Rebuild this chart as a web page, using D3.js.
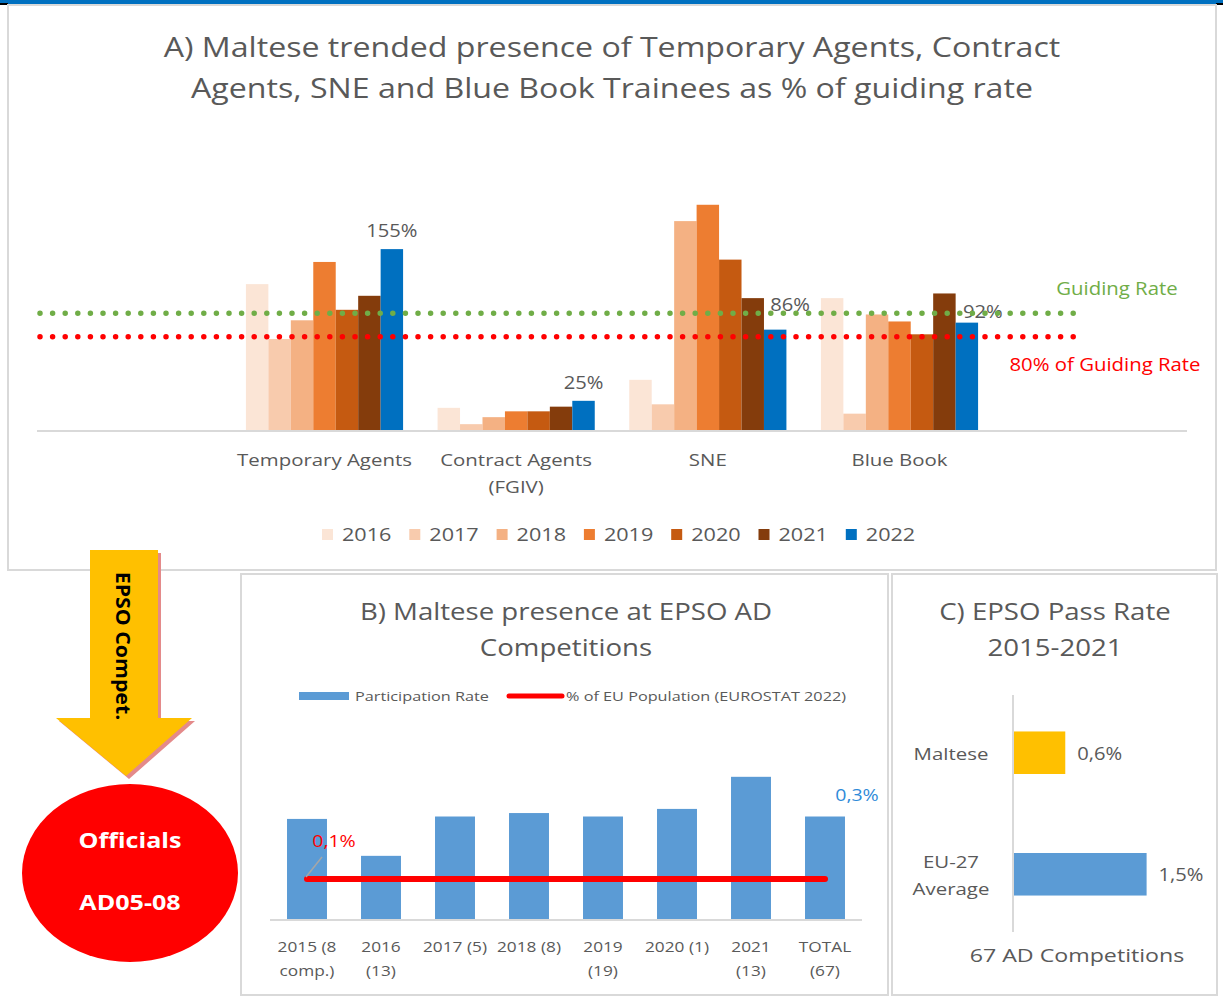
<!DOCTYPE html>
<html>
<head>
<meta charset="utf-8">
<script src="https://cdn.jsdelivr.net/npm/d3@7"></script>
<style>
  body { margin: 0; background: #fff; }
  svg { display: block; font-family: "Open Sans", Lato, sans-serif; }
</style>
</head>
<body>
<svg id="chart" width="1223" height="997"></svg>
<script>
'use strict'

// ---- panel A data ----
const categoriesA = ['', 'Temporary Agents', 'Contract Agents|(FGIV)', 'SNE', 'Blue Book', '']
const yearsA = ['2016', '2017', '2018', '2019', '2020', '2021', '2022']
const yearColors = ['#FBE5D6', '#F8CBAD', '#F4B183', '#ED7D31', '#C55A11', '#843C0C', '#0070C0']
const presenceTA = [125, 78, 94, 144, 103, 115, 155]
const presenceCA = [19, 5, 11, 16, 16, 20, 25]
const presenceSNE = [43, 22, 179, 193, 146, 113, 86]
const presenceBB = [113, 14, 99, 93, 82, 117, 92]
const guidingRate = 100
const guidingRate80 = 80

// ---- panel B data ----
const competitionsB = ['2015 (8|comp.)', '2016|(13)', '2017 (5)', '2018 (8)', '2019|(19)', '2020 (1)', '2021|(13)', 'TOTAL|(67)']
const participationB = [0.29, 0.183, 0.297, 0.307, 0.297, 0.319, 0.412, 0.297]
const euPopulationShare = 0.116

// ---- panel C data ----
const groupsC = ['Maltese', 'EU-27|Average']
const passRateC = [0.58, 1.5]
const passColorsC = ['#FFC000', '#5B9BD5']

const svg = d3.select('#chart')
const grey = '#595959'

// the source picture is a little stretched sideways, so text gets widened too
const STRETCH = 1.17
function widen(sel, factor) {
    sel.each(function () {
        const w = this.getComputedTextLength()
        d3.select(this).attr('textLength', w * (factor || STRETCH)).attr('lengthAdjust', 'spacingAndGlyphs')
    })
    return sel
}

// top band
svg.append('rect').attr('x', 0).attr('y', 0).attr('width', 1223).attr('height', 4).attr('fill', '#0070C0')
svg.append('rect').attr('x', 0).attr('y', 3).attr('width', 8).attr('height', 2).attr('fill', '#000')
svg.append('rect').attr('x', 1216).attr('y', 3).attr('width', 7).attr('height', 2).attr('fill', '#000')

// panel frames
const frame = (x, y, w, h) => svg.append('rect')
    .attr('x', x).attr('y', y).attr('width', w).attr('height', h)
    .attr('fill', '#fff').attr('stroke', '#D9D9D9').attr('stroke-width', 2)
frame(8, 5, 1208, 565)
frame(241, 574, 647, 421)
frame(892, 574, 325, 421)

const title = (x, ys, lines, size, f) => {
    lines.forEach((t, i) => widen(svg.append('text')
        .attr('x', x).attr('y', ys[i])
        .attr('text-anchor', 'middle')
        .attr('font-size', size)
        .attr('fill', grey)
        .text(t), f))
}

// ===== panel A =====
title(612, [57, 98], ['A) Maltese trended presence of Temporary Agents, Contract',
    'Agents, SNE and Blue Book Trainees as % of guiding rate'], 28, 1.147)

const seriesA = [presenceTA, presenceCA, presenceSNE, presenceBB]
const baseA = 430
const xA = d3.scaleBand().domain(categoriesA.map((d, i) => i)).range([37, 1187]).paddingInner(0).paddingOuter(0)
const innerA = d3.scaleBand().domain(yearsA).range([0, xA.bandwidth() * 0.82])
const yA = d3.scaleLinear().domain([0, 200]).range([baseA, baseA - 233.4])

const gA = svg.append('g')
seriesA.forEach((vals, ci) => {
    const x0 = xA(ci + 1) + xA.bandwidth() * 0.09
    gA.selectAll(null).data(vals).enter().append('rect')
        .attr('x', (d, i) => x0 + innerA(yearsA[i]))
        .attr('y', d => yA(d))
        .attr('width', innerA.bandwidth())
        .attr('height', d => baseA - yA(d))
        .attr('fill', (d, i) => yearColors[i])
})

// axis line
svg.append('line').attr('x1', 37).attr('x2', 1187).attr('y1', baseA + 1).attr('y2', baseA + 1)
    .attr('stroke', '#D9D9D9').attr('stroke-width', 2)

// data labels on 2022 bars (the last two were moved by hand in the original)
const labelShift = [[0, -12], [0, -12], [15, -2], [16, 5]]
seriesA.forEach((vals, ci) => {
    const x0 = xA(ci + 1) + xA.bandwidth() * 0.09
    const v = vals[6]
    widen(svg.append('text')
        .attr('x', x0 + innerA('2022') + innerA.bandwidth() / 2 + labelShift[ci][0])
        .attr('y', yA(ci >= 2 ? guidingRate : v) + labelShift[ci][1])
        .attr('text-anchor', 'middle')
        .attr('font-size', 18)
        .attr('fill', grey)
        .text(v + '%'), 1.12)
})

// guiding rate lines
const dotted = (v, color) => svg.append('line')
    .attr('x1', 40).attr('x2', 1084)
    .attr('y1', yA(v)).attr('y2', yA(v))
    .attr('stroke', color).attr('stroke-width', 5.5)
    .attr('stroke-linecap', 'round')
    .attr('stroke-dasharray', '0 12.6')
dotted(guidingRate, '#70AD47')
dotted(guidingRate80, '#FF0000')
widen(svg.append('text').attr('x', 1117).attr('y', 295).attr('text-anchor', 'middle')
    .attr('font-size', 18).attr('fill', '#70AD47').text('Guiding Rate'), 1.13)
widen(svg.append('text').attr('x', 1105).attr('y', 371).attr('text-anchor', 'middle')
    .attr('font-size', 18).attr('fill', '#FF0000').text('80% of Guiding Rate'), 1.13)

// category labels
categoriesA.forEach((c, i) => {
    if (!c) return
    c.split('|').forEach((t, j) => widen(svg.append('text')
        .attr('x', xA(i) + xA.bandwidth() / 2)
        .attr('y', 466 + j * 27)
        .attr('text-anchor', 'middle')
        .attr('font-size', 17)
        .attr('fill', grey)
        .text(t), 1.2))
})

// legend A
const legA = svg.append('g')
yearsA.forEach((y, i) => {
    const lx = 322 + i * 87.3
    legA.append('rect').attr('x', lx).attr('y', 529).attr('width', 11).attr('height', 11).attr('fill', yearColors[i])
    widen(legA.append('text').attr('x', lx + 20).attr('y', 541).attr('font-size', 18).attr('fill', grey).text(y), 1.2)
})

// ===== left: arrow and ellipse =====
const arrowPts = [[90, 550], [158, 550], [158, 718], [192, 718], [126, 776], [56, 718], [90, 718]]
svg.append('polygon').attr('points', arrowPts.map(p => [p[0] + 3, p[1] + 3].join(',')).join(' '))
    .attr('fill', '#E48A8A')
svg.append('polygon').attr('points', arrowPts.map(p => p.join(',')).join(' '))
    .attr('fill', '#FFC000')
widen(svg.append('text').attr('transform', 'translate(116,646) rotate(90)')
    .attr('text-anchor', 'middle').attr('font-size', 19).attr('font-weight', 'bold')
    .attr('fill', '#000').text('EPSO Compet.'), 1.12)

svg.append('ellipse').attr('cx', 130).attr('cy', 873).attr('rx', 108).attr('ry', 89).attr('fill', '#FF0000')
widen(svg.append('text').attr('x', 130).attr('y', 848).attr('text-anchor', 'middle')
    .attr('font-size', 22).attr('font-weight', 'bold').attr('fill', '#fff').text('Officials'), 1.14)
widen(svg.append('text').attr('x', 130).attr('y', 910).attr('text-anchor', 'middle')
    .attr('font-size', 22).attr('font-weight', 'bold').attr('fill', '#fff').text('AD05-08'), 1.14)

// ===== panel B =====
title(566, [620, 656], ['B) Maltese presence at EPSO AD', 'Competitions'], 24, 1.15)

const baseB = 919
const xB = d3.scaleBand().domain(competitionsB).range([270, 862]).paddingInner(0.46).paddingOuter(0.23)
const yB = d3.scaleLinear().domain([0, 0.45]).range([baseB, baseB - 155.3])

svg.append('g').selectAll('rect').data(participationB).enter().append('rect')
    .attr('x', (d, i) => xB(competitionsB[i]))
    .attr('y', d => yB(d))
    .attr('width', xB.bandwidth())
    .attr('height', d => baseB - yB(d))
    .attr('fill', '#5B9BD5')

svg.append('line').attr('x1', 270).attr('x2', 862).attr('y1', baseB + 1).attr('y2', baseB + 1)
    .attr('stroke', '#D9D9D9').attr('stroke-width', 2)

const midB = c => xB(c) + xB.bandwidth() / 2
const popLine = d3.line().x(d => midB(d)).y(() => yB(euPopulationShare))
svg.append('path').datum(competitionsB).attr('d', popLine)
    .attr('stroke', '#FF0000').attr('stroke-width', 6).attr('stroke-linecap', 'round').attr('fill', 'none')

// leader + labels
svg.append('line').attr('x1', midB(competitionsB[0]) - 1).attr('y1', yB(euPopulationShare) - 2)
    .attr('x2', 322).attr('y2', 857).attr('stroke', '#A6A6A6').attr('stroke-width', 1.5)
widen(svg.append('text').attr('x', 334).attr('y', 847).attr('text-anchor', 'middle')
    .attr('font-size', 17).attr('fill', '#FF0000').text('0,1%'), 1.15)
widen(svg.append('text').attr('x', 857).attr('y', 801).attr('text-anchor', 'middle')
    .attr('font-size', 17).attr('fill', '#2E8AD8').text('0,3%'), 1.15)

competitionsB.forEach(c => {
    c.split('|').forEach((t, j) => widen(svg.append('text')
        .attr('x', midB(c)).attr('y', 952 + j * 24)
        .attr('text-anchor', 'middle').attr('font-size', 15).attr('fill', grey).text(t), 1.15))
})

// legend B
svg.append('rect').attr('x', 299).attr('y', 692).attr('width', 50).attr('height', 8).attr('fill', '#5B9BD5')
svg.append('text').attr('x', 355).attr('y', 701).attr('font-size', 13.5).attr('fill', grey)
    .text('Participation Rate').attr('textLength', 134).attr('lengthAdjust', 'spacingAndGlyphs')
svg.append('line').attr('x1', 509).attr('x2', 562).attr('y1', 696).attr('y2', 696)
    .attr('stroke', '#FF0000').attr('stroke-width', 5).attr('stroke-linecap', 'round')
svg.append('text').attr('x', 566).attr('y', 701).attr('font-size', 13.5).attr('fill', grey)
    .text('% of EU Population (EUROSTAT 2022)').attr('textLength', 280).attr('lengthAdjust', 'spacingAndGlyphs')

// ===== panel C =====
title(1055, [620, 656], ['C) EPSO Pass Rate', '2015-2021'], 24, 1.15)

const xC = d3.scaleLinear().domain([0, 1.5]).range([1014, 1146.6])
const yC = d3.scaleBand().domain(groupsC).range([695, 932]).paddingInner(0.65).paddingOuter(0.3)

svg.append('g').selectAll('rect').data(passRateC).enter().append('rect')
    .attr('x', xC(0))
    .attr('y', (d, i) => yC(groupsC[i]))
    .attr('width', d => xC(d) - xC(0))
    .attr('height', yC.bandwidth())
    .attr('fill', (d, i) => passColorsC[i])

svg.append('line').attr('x1', 1013).attr('x2', 1013).attr('y1', 695).attr('y2', 932)
    .attr('stroke', '#D9D9D9').attr('stroke-width', 2)

passRateC.forEach((v, i) => {
    widen(svg.append('text')
        .attr('x', xC(v) + 12)
        .attr('y', yC(groupsC[i]) + yC.bandwidth() / 2 + 7)
        .attr('font-size', 18).attr('fill', grey)
        .text(d3.format('.1f')(v).replace('.', ',') + '%'), 1.12)
    const lines = groupsC[i].split('|')
    lines.forEach((t, j) => widen(svg.append('text')
        .attr('x', 951)
        .attr('y', yC(groupsC[i]) + yC.bandwidth() / 2 + 7 + (j - (lines.length - 1) / 2) * 27)
        .attr('text-anchor', 'middle').attr('font-size', 17).attr('fill', grey).text(t), 1.2))
})

widen(svg.append('text').attr('x', 1077).attr('y', 962).attr('text-anchor', 'middle')
    .attr('font-size', 19).attr('fill', grey).text('67 AD Competitions'), 1.22)
</script>
</body>
</html>
